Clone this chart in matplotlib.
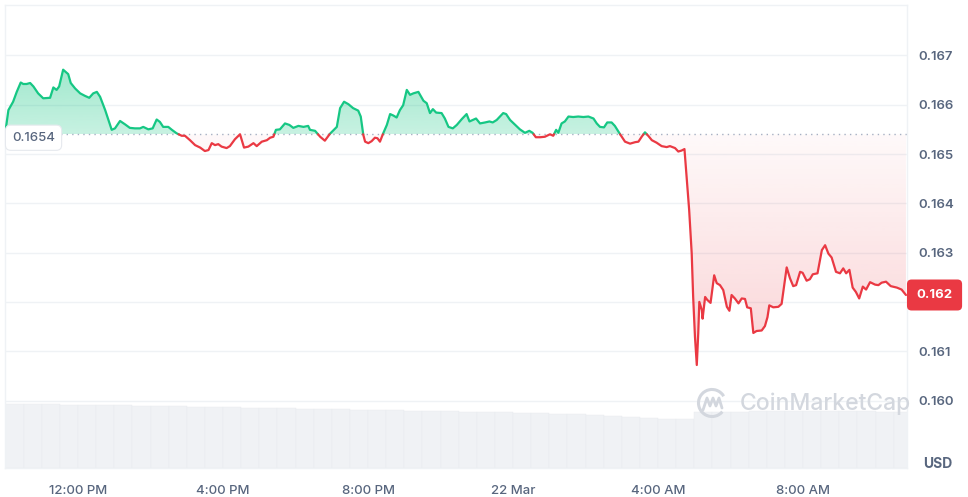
import numpy as np
import matplotlib
matplotlib.use("Agg")
import matplotlib.pyplot as plt
from matplotlib.path import Path
from matplotlib.colors import to_rgb
from matplotlib.transforms import blended_transform_factory
from matplotlib.patches import Arc

plt.rcParams['font.family'] = ['Inter', 'DejaVu Sans']

# ---------------- data ----------------
# hours relative to 21 Mar 12:00 PM
hours = [-1.99,-1.92,-1.79,-1.69,-1.58,-1.51,-1.42,-1.32,-1.23,-1.10,
         -0.96,-0.77,-0.68,-0.59,-0.52,-0.41,-0.27,-0.20,-0.08,0.06,
         0.19,0.31,0.42,0.52,0.61,0.75,0.93,1.02,1.16,1.30,
         1.43,1.57,1.71,1.80,1.94,2.06,2.17,2.26,2.35,2.49,
         2.59,2.72,2.86,2.95,3.09,3.23,3.37,3.50,3.60,3.69,
         3.78,3.87,3.96,4.10,4.19,4.33,4.47,4.58,4.70,4.84,
         4.93,5.07,5.21,5.30,5.39,5.46,5.57,5.71,5.83,5.94,
         6.08,6.22,6.35,6.40,6.54,6.68,6.81,6.95,7.14,7.23,
         7.34,7.46,7.59,7.73,7.80,7.87,7.92,8.01,8.10,8.19,
         8.26,8.33,8.42,8.52,8.61,8.70,8.79,8.88,8.97,9.07,
         9.16,9.25,9.39,9.53,9.62,9.71,9.79,9.88,10.03,10.12,
         10.22,10.34,10.45,10.59,10.72,10.80,10.89,10.98,11.09,11.23,
         11.35,11.44,11.55,11.64,11.73,11.81,11.92,12.06,12.19,12.33,
         12.45,12.54,12.63,12.75,12.88,13.02,13.11,13.19,13.25,13.34,
         13.43,13.53,13.66,13.80,13.94,14.08,14.22,14.31,14.40,14.51,
         14.60,14.72,14.81,14.91,15.00,15.09,15.23,15.37,15.46,15.55,
         15.64,15.73,15.83,15.96,16.10,16.24,16.33,16.47,16.56,16.65,
         16.73,16.79,16.86,16.93,16.97,17.02,17.07,17.11,17.14,17.21,
         17.23,17.30,17.36,17.45,17.55,17.62,17.71,17.80,17.90,17.97,
         18.03,18.12,18.22,18.31,18.40,18.46,18.56,18.63,18.72,18.86,
         18.95,19.02,19.07,19.18,19.32,19.41,19.55,19.64,19.73,19.81,
         19.92,19.99,20.10,20.19,20.27,20.40,20.52,20.61,20.70,20.79,
         20.91,21.02,21.11,21.19,21.28,21.37,21.46,21.55,21.65,21.74,
         21.85,21.99,22.08,22.17,22.29,22.42,22.59,22.72,22.84]

prices = [0.16552,0.16589,0.16606,0.16626,0.16645,0.16642,0.16642,0.16644,0.16637,0.16623,
          0.16613,0.16614,0.16635,0.16630,0.16637,0.16671,0.16662,0.16644,0.16633,0.16623,
          0.16618,0.16614,0.16623,0.16626,0.16616,0.16589,0.16549,0.16552,0.16567,0.16560,
          0.16553,0.16552,0.16552,0.16555,0.16550,0.16552,0.16570,0.16565,0.16555,0.16555,
          0.16549,0.16542,0.16537,0.16537,0.16528,0.16518,0.16513,0.16506,0.16508,0.16522,
          0.16518,0.16520,0.16515,0.16512,0.16516,0.16530,0.16540,0.16513,0.16515,0.16522,
          0.16516,0.16525,0.16528,0.16533,0.16535,0.16549,0.16550,0.16562,0.16559,0.16553,
          0.16557,0.16555,0.16557,0.16549,0.16547,0.16535,0.16527,0.16541,0.16555,0.16593,
          0.16606,0.16601,0.16593,0.16588,0.16576,0.16539,0.16525,0.16522,0.16526,0.16533,
          0.16532,0.16525,0.16542,0.16559,0.16581,0.16578,0.16574,0.16589,0.16599,0.16630,
          0.16620,0.16623,0.16626,0.16608,0.16603,0.16583,0.16591,0.16584,0.16583,0.16572,
          0.16555,0.16552,0.16559,0.16571,0.16581,0.16566,0.16569,0.16572,0.16562,0.16564,
          0.16566,0.16564,0.16569,0.16576,0.16583,0.16581,0.16569,0.16559,0.16550,0.16543,
          0.16547,0.16543,0.16534,0.16534,0.16535,0.16540,0.16537,0.16549,0.16543,0.16562,
          0.16566,0.16576,0.16575,0.16576,0.16575,0.16576,0.16572,0.16562,0.16555,0.16554,
          0.16564,0.16564,0.16557,0.16545,0.16535,0.16525,0.16521,0.16524,0.16525,0.16535,
          0.16544,0.16537,0.16528,0.16523,0.16516,0.16514,0.16516,0.16512,0.16505,0.16507,
          0.16510,0.16454,0.16386,0.16298,0.16210,0.16129,0.16072,0.16136,0.16200,0.16183,
          0.16166,0.16210,0.16204,0.16198,0.16254,0.16238,0.16234,0.16224,0.16190,0.16182,
          0.16214,0.16207,0.16197,0.16207,0.16206,0.16189,0.16187,0.16137,0.16141,0.16142,
          0.16151,0.16169,0.16193,0.16189,0.16190,0.16196,0.16270,0.16248,0.16232,0.16234,
          0.16261,0.16259,0.16243,0.16246,0.16256,0.16258,0.16305,0.16315,0.16298,0.16290,
          0.16261,0.16258,0.16268,0.16258,0.16265,0.16229,0.16220,0.16207,0.16231,0.16225,
          0.16240,0.16235,0.16234,0.16239,0.16241,0.16232,0.16229,0.16225,0.16214]

open_price = 0.1654
last_label = "0.162"

# volume (relative units), half-hour buckets starting at -2 h
vol_start = -2.0
vol_step = 0.5
volume = [64, 64, 64, 63.5, 63, 63, 63, 62.5, 62, 62,
          61.5, 61, 61, 60.5, 60, 60, 59.5, 59, 59, 58.5,
          58, 58, 57.5, 57, 57, 56.5, 56, 56, 55.5, 55,
          54.5, 54, 53, 52, 51, 50, 49.5, 49, 56, 56.5,
          56.5, 57, 57, 57, 57, 57, 57, 57, 56.5, 56]

x_ticks = [0, 4, 8, 12, 16, 20]
x_labels = ['12:00 PM', '4:00 PM', '8:00 PM', '22 Mar', '4:00 AM', '8:00 AM']
y_ticks = [0.160, 0.161, 0.162, 0.163, 0.164, 0.165, 0.166, 0.167]
# 0.162 is shown by the last-price tag that sits over its tick
y_labels = ['0.160', '0.161', '', '0.163', '0.164', '0.165', '0.166', '0.167']

GREEN = '#16c784'
RED = '#ea3943'
GREY = '#58667e'
GRID = '#eff2f5'

# ---------------- figure ----------------
W, H = 968, 497
fig = plt.figure(figsize=(W / 100, H / 100), dpi=100)
L, R, T, B = 5, 907, 5, 468
ax = fig.add_axes([L / W, 1 - B / H, (R - L) / W, (B - T) / H])
vax = ax.twinx()
vax.set_zorder(0)
ax.set_zorder(1)
ax.patch.set_visible(False)

# volume bars
vx = vol_start + vol_step * np.arange(len(volume))
vax.bar(vx, volume, width=vol_step, align='edge', color='#f0f2f5',
        edgecolor='#e8ebef', linewidth=0.3)
vax.set_ylim(0, max(volume) / 0.138)
vax.yaxis.set_visible(False)
for s in vax.spines.values():
    s.set_visible(False)

# split line at crossings with the open price
x = np.asarray(hours, float)
y = np.asarray(prices, float)
xs, ys = [x[0]], [y[0]]
for i in range(1, len(x)):
    y0, y1 = y[i - 1], y[i]
    if (y0 - open_price) * (y1 - open_price) < 0:
        t = (open_price - y0) / (y1 - y0)
        xs.append(x[i - 1] + t * (x[i] - x[i - 1]))
        ys.append(open_price)
    xs.append(x[i])
    ys.append(y[i])
xs = np.array(xs)
ys = np.array(ys)


def grad_fill(where, color, y_lo, y_hi, a_lo, a_hi):
    coll = ax.fill_between(xs, ys, open_price, where=where, interpolate=True,
                           facecolor='none', edgecolor='none')
    path = Path.make_compound_path(*coll.get_paths())
    n = 256
    rgba = np.zeros((n, 1, 4))
    rgba[..., :3] = to_rgb(color)
    rgba[:, 0, 3] = np.linspace(a_lo, a_hi, n)
    im = ax.imshow(rgba, extent=[xs.min(), xs.max(), y_lo, y_hi], origin='lower',
                   aspect='auto', interpolation='bilinear', zorder=1)
    im.set_clip_path(path, transform=ax.transData)


grad_fill(ys >= open_price, GREEN, open_price, ys.max(), 0.24, 0.40)
grad_fill(ys <= open_price, RED, ys.min(), open_price, 0.22, 0.03)

up = np.where(ys >= open_price, ys, np.nan)
dn = np.where(ys <= open_price, ys, np.nan)
ax.plot(xs, up, color=GREEN, lw=1.6, solid_joinstyle='round', solid_capstyle='round', zorder=3)
ax.plot(xs, dn, color=RED, lw=1.6, solid_joinstyle='round', solid_capstyle='round', zorder=3)

ax.axhline(open_price, color='#a6b0c3', lw=1.0, linestyle=(0, (1, 3)), zorder=2)

# axes styling
ax.set_xlim((L - 78) / 36.25, (R - 78) / 36.25)
ax.set_ylim(0.165 - (B - 154) / 49300, 0.165 + (154 - T) / 49300)
ax.yaxis.tick_right()
ax.set_yticks(y_ticks)
ax.set_yticklabels(y_labels)
ax.set_xticks(x_ticks)
ax.set_xticklabels(x_labels)
ax.tick_params(axis='y', length=0, pad=8, labelsize=9.5, labelcolor=GREY)
ax.tick_params(axis='x', length=0, pad=12, labelsize=9.5, labelcolor=GREY)
for lab in ax.get_yticklabels():
    lab.set_fontweight('semibold')
for lab in ax.get_xticklabels():
    lab.set_fontweight('medium')
ax.grid(axis='y', color=GRID, lw=1, zorder=0)
ax.set_axisbelow(True)
for s in ax.spines.values():
    s.set_color(GRID)
    s.set_linewidth(1)

# last price tag
tr = blended_transform_factory(ax.transAxes, ax.transData)
ax.text(1.0105, prices[-1], last_label, transform=tr, ha='left', va='center',
        fontsize=9.5, fontweight='bold', color='white', zorder=6, clip_on=False,
        bbox=dict(boxstyle='round,pad=0.72,rounding_size=0.35', facecolor=RED, edgecolor='none'))

# open price tag
ax.text(0.0078, open_price - 0.00007, f"{open_price:.4f}", transform=tr, ha='left', va='center',
        fontsize=9.5, fontweight='medium', color=GREY, zorder=6,
        bbox=dict(boxstyle='round,pad=0.5,rounding_size=0.4', facecolor='white',
                  edgecolor='#e6e9ee', linewidth=0.8))

# USD
fig.text(938 / W, 1 - 464 / H, 'USD', ha='center', va='center', fontsize=10,
         fontweight='bold', color=GREY)

# watermark overlay in pixel coords
ov = fig.add_axes([0, 0, 1, 1], zorder=5)
ov.set_xlim(0, W)
ov.set_ylim(H, 0)
ov.axis('off')
wm = '#d3d7de'
ov.add_patch(Arc((712, 403), 27, 27, theta1=40, theta2=330, color=wm, lw=2.2))
ov.plot([703, 707, 710, 713, 716, 719, 722], [410, 398, 406, 398, 406, 398, 408],
        color=wm, lw=2.0, solid_joinstyle='round', solid_capstyle='round')
ov.text(740, 404, 'CoinMarketCap', ha='left', va='center', fontsize=16.5,
        fontweight='medium', color=wm)

fig.savefig('out.png', dpi=100, facecolor='white')
